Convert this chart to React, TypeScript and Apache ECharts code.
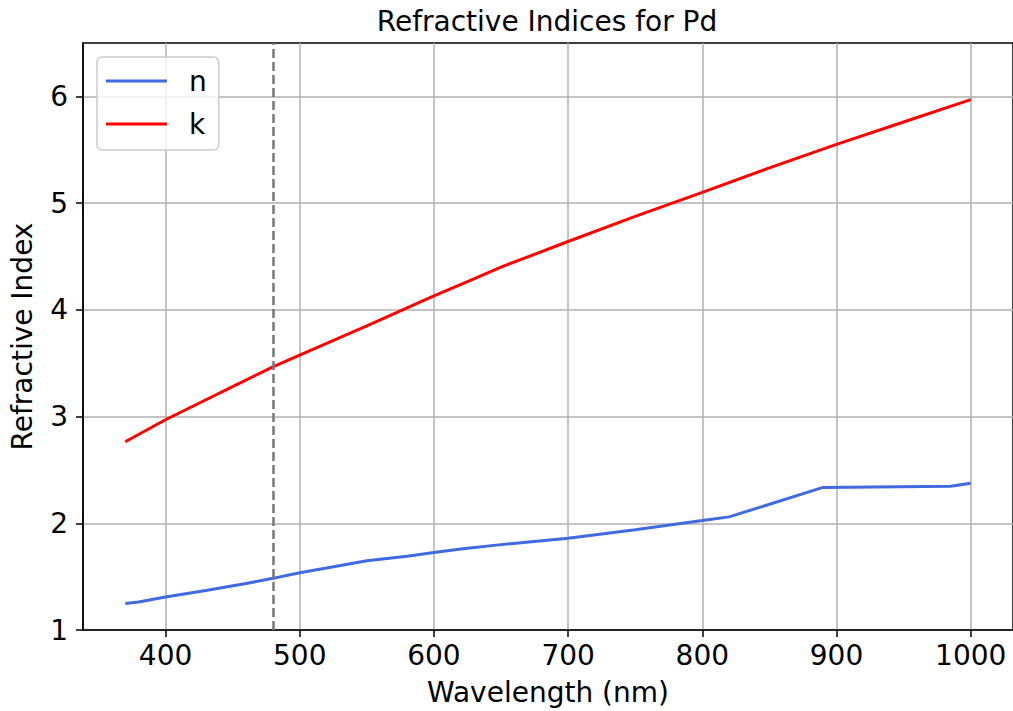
import React, { useEffect, useRef } from "react";
import * as echarts from "echarts";

const titleText = "Refractive Indices for Pd";
const xName = "Wavelength (nm)";
const yName = "Refractive Index";

const nWavelengths = [370, 380, 400, 430, 460, 480, 500, 520, 550, 580, 600, 620, 650, 700, 750, 800, 820, 890, 985, 1000];
const nValues = [1.248, 1.262, 1.31, 1.37, 1.435, 1.484, 1.537, 1.58, 1.648, 1.69, 1.726, 1.758, 1.8, 1.86, 1.94, 2.025, 2.06, 2.336, 2.346, 2.374];

const kWavelengths = [370, 400, 450, 480, 500, 550, 600, 625, 650, 700, 750, 800, 850, 900, 950, 1000];
const kValues = [2.764, 2.97, 3.28, 3.465, 3.575, 3.85, 4.13, 4.265, 4.4, 4.64, 4.875, 5.1, 5.33, 5.55, 5.76, 5.97];

const xTicks = [400, 500, 600, 700, 800, 900, 1000];
const yTicks = [1, 2, 3, 4, 5, 6];
const markerWavelength = 480;

const FONT = "DejaVu Sans";

export default function App() {
  const ref = useRef<HTMLDivElement>(null);

  useEffect(() => {
    if (!ref.current) return;
    const chart = echarts.init(ref.current, null, { renderer: "svg" });
    const nData = nWavelengths.map((w, i) => [w, nValues[i]]);
    const kData = kWavelengths.map((w, i) => [w, kValues[i]]);

    chart.setOption({
      animation: false,
      backgroundColor: "#ffffff",
      textStyle: { fontFamily: FONT },
      title: {
        text: titleText,
        left: 547,
        top: 7,
        padding: 0,
        textAlign: "center",
        textStyle: { fontFamily: FONT, fontSize: 28, fontWeight: "normal", color: "#000" },
      },
      legend: {
        orient: "vertical",
        left: 97,
        top: 57,
        padding: [10, 12, 12, 9],
        icon: "rect",
        itemWidth: 61,
        itemHeight: 3,
        itemGap: 15,
        borderColor: "#cccccc",
        borderWidth: 1.5,
        borderRadius: 5,
        backgroundColor: "rgba(255,255,255,0.8)",
        textStyle: { fontFamily: FONT, fontSize: 28, color: "#000", padding: [0, 0, 0, 17] },
        data: ["n", "k"],
      },
      grid: { left: 83, top: 43, width: 932, height: 588, show: true, borderColor: "#000", borderWidth: 1.5, containLabel: false },
      xAxis: {
        type: "value",
        min: 338.5,
        max: 1031.5,
        name: xName,
        nameLocation: "middle",
        nameGap: 48,
        nameTextStyle: { fontFamily: FONT, fontSize: 28, color: "#000" },
        axisLine: { show: true, lineStyle: { color: "#000", width: 1.5 } },
        axisTick: { show: true, length: 7, lineStyle: { color: "#000", width: 1.5 }, customValues: xTicks },
        axisLabel: { fontFamily: FONT, fontSize: 28, color: "#000", margin: 11, customValues: xTicks, formatter: (v: number) => String(v) },
        splitLine: { show: true, lineStyle: { color: "#b0b0b0", width: 1.5 } },
      },
      yAxis: {
        type: "value",
        min: 1,
        max: 6.5,
        name: yName,
        nameLocation: "middle",
        nameGap: 47,
        nameTextStyle: { fontFamily: FONT, fontSize: 28, color: "#000" },
        axisLine: { show: true, lineStyle: { color: "#000", width: 1.5 } },
        axisTick: { show: true, length: 7, lineStyle: { color: "#000", width: 1.5 }, customValues: yTicks },
        axisLabel: { fontFamily: FONT, fontSize: 28, color: "#000", margin: 15, customValues: yTicks, formatter: (v: number) => String(v) },
        splitLine: { show: true, lineStyle: { color: "#b0b0b0", width: 1.5 } },
      },
      series: [
        {
          name: "n",
          type: "line",
          data: nData,
          symbol: "none",
          lineStyle: { color: "#4169E1", width: 3 },
          itemStyle: { color: "#4169E1" },
          markLine: {
            silent: true,
            symbol: ["none", "none"],
            label: { show: false },
            lineStyle: { color: "#777777", type: [9, 4], width: 2.5 },
            data: [{ xAxis: markerWavelength }],
          },
        },
        {
          name: "k",
          type: "line",
          data: kData,
          symbol: "none",
          lineStyle: { color: "#ff0000", width: 3 },
          itemStyle: { color: "#ff0000" },
        },
      ],
    });
    return () => chart.dispose();
  }, []);

  return (
    <div
      ref={ref}
      style={{ position: "fixed", left: 0, top: 0, width: 1013, height: 711, background: "#fff" }}
    />
  );
}
